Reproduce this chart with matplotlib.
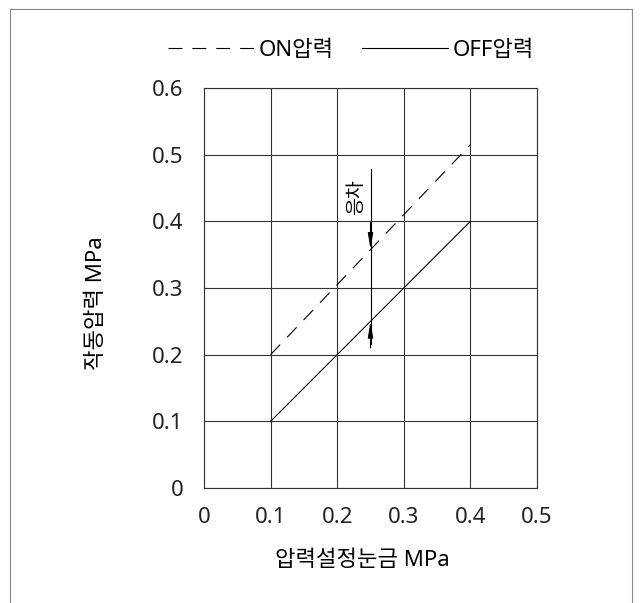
import matplotlib
matplotlib.use('Agg')
import matplotlib.pyplot as plt
from matplotlib.lines import Line2D

plt.rcParams['font.family'] = ['Noto Sans', 'Noto Sans CJK KR', 'DejaVu Sans']
plt.rcParams['lines.scale_dashes'] = False

# data
set_scale = [0.1, 0.2, 0.3, 0.4]
on_pressure = [0.2, 0.305, 0.41, 0.515]
off_pressure = [0.1, 0.2, 0.3, 0.4]
x_ticks = [0, 0.1, 0.2, 0.3, 0.4, 0.5]
x_labels = ['0', '0.1', '0.2', '0.3', '0.4', '0.5']
y_ticks = [0, 0.1, 0.2, 0.3, 0.4, 0.5, 0.6]
y_labels = ['0', '0.1', '0.2', '0.3', '0.4', '0.5', '0.6']

# hysteresis marker
diff_x = 0.25
diff_top = 0.478
diff_bottom = 0.216
diff_on = 0.358
diff_off = 0.25

fs = 16
fig = plt.figure(figsize=(6.4, 6.03), dpi=100)
ax = fig.add_axes([204/640, 1-488/603, 333/640, 400/603])

grid_c = '#333333'
ax.set_xlim(0, 0.5)
ax.set_ylim(0, 0.6)
ax.set_xticks(x_ticks)
ax.set_xticklabels(x_labels)
ax.set_yticks(y_ticks)
ax.set_yticklabels(y_labels)
ax.tick_params(length=0, labelsize=fs, pad=13.5, colors='#222222')
ax.tick_params(axis='y', pad=15)
ax.grid(True, color=grid_c, lw=0.8)
for s in ax.spines.values():
    s.set_color(grid_c)
    s.set_linewidth(0.8)

on_line, = ax.plot(set_scale, on_pressure, color='black', lw=0.8, dashes=(10, 7.2))
off_line, = ax.plot(set_scale, off_pressure, color='black', lw=0.8)

ax.plot([diff_x, diff_x], [diff_top, diff_bottom], color='black', lw=0.8)
arrow = dict(arrowstyle='-|>,head_length=0.8,head_width=0.13', color='black', lw=0.8,
             shrinkA=0, shrinkB=0, mutation_scale=12)
ax.annotate('', xy=(diff_x, diff_on), xytext=(diff_x, diff_on + 0.04), arrowprops=arrow)
ax.annotate('', xy=(diff_x, diff_off), xytext=(diff_x, diff_off - 0.04), arrowprops=arrow)
ax.text(0.229, 0.437, '응차', rotation=90, ha='center', va='center', fontsize=14)

ax.set_ylabel('작동압력 MPa', fontsize=fs, va='center')
ax.yaxis.set_label_coords(-0.322, 0.4625)
ax.set_xlabel('압력설정눈금 MPa', fontsize=fs, va='center')
ax.xaxis.set_label_coords(0.474, -0.1825)

# legend
on_key = Line2D([], [], color='black', lw=0.8, dashes=(10, 7.2))
off_key = Line2D([], [], color='black', lw=0.8)
fig.legend(handles=[on_key, off_key], labels=['ON압력', 'OFF압력'], loc='center',
           bbox_to_anchor=(351/640, 1-50/603), ncol=2, frameon=False, fontsize=fs,
           handlelength=3.87, handletextpad=0.2, columnspacing=1.3, borderpad=0)

# outer frame
fig.add_artist(Line2D([10/640, 10/640, 632/640, 632/640], [0, 1-8.5/603, 1-8.5/603, 0],
                      transform=fig.transFigure, color='#888888', lw=0.8))

fig.savefig('out.png', dpi=100)
